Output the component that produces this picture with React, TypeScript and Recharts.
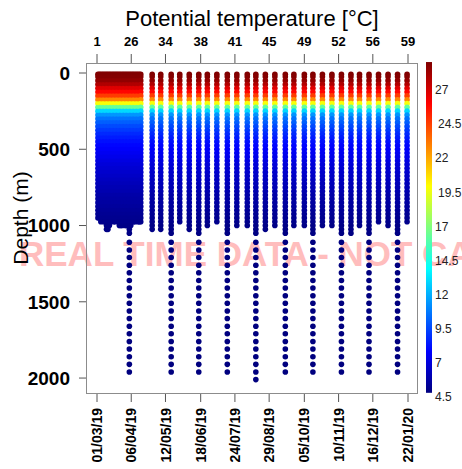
import React from "react";
import { ScatterChart, Scatter, XAxis, YAxis } from "recharts";

const FONT = "'Liberation Sans', Arial, Helvetica, sans-serif";

// days since 01/03/19
const DATE_TICKS = [0, 36, 72, 109, 145, 181, 218, 254, 290, 327];
const DATE_LABELS = [
  "01/03/19", "06/04/19", "12/05/19", "18/06/19", "24/07/19",
  "29/08/19", "05/10/19", "10/11/19", "16/12/19", "22/01/20",
];
const PROFILE_LABELS = ["1", "26", "34", "38", "41", "45", "49", "52", "56", "59"];
const DEPTH_TICKS = [0, 500, 1000, 1500, 2000];
const CBAR_TICKS = [4.5, 7, 9.5, 12, 14.5, 17, 19.5, 22, 24.5, 27];

// day of each profile (first ones every ~1.5 days, then every ~10 days)
const PROFILE_DAYS = [
  1, 2.5, 4, 5.5, 7, 8.5, 10, 11.5, 13, 14.5, 16, 17.5, 19, 20.5, 22, 23.5,
  25, 26.5, 28, 29.5, 31, 32.5, 34, 35.5, 37, 38.5, 40, 41.5, 43, 44.5, 46,
  58, 67, 78, 87, 97, 107, 116, 126, 137, 147, 158, 167, 177, 187, 198, 207,
  218, 227, 237, 247, 257, 267, 276, 286, 296, 306, 316, 326,
];
// bottom of the continuous part of each profile (m)
const DENSE_BOTTOM = [
  950, 950, 975, 950, 975, 975, 1025, 1025, 1000, 975, 950, 975, 975, 950, 975, 1000,
  1000, 1000, 975, 1000, 1000, 1000, 1050, 1000, 975, 975, 975, 950, 975, 975, 975,
  1025, 1025, 1050, 975, 1025, 1050, 1000, 975, 1050, 1000, 1000, 1050, 1025, 1000, 1050, 1000,
  1000, 1050, 1000, 1000, 1050, 1050, 1000, 1050, 975, 1000, 1050, 975,
];
// profiles that go on sampling every 50 m below the continuous part
const DEEP_INDEX = [22, 33, 36, 39, 42, 45, 48, 51, 54, 57];
const DEEP_MAX = [1960, 1960, 1960, 1960, 2010, 1960, 1960, 1960, 1960, 1960];

// potential temperature (°C) against depth (m)
const LEVELS = [
  8, 25, 50, 75, 100, 125, 150, 175, 200, 225, 250, 275, 300, 325, 350, 375,
  400, 425, 450, 475, 500, 525, 550, 575, 600, 625, 650, 675, 700, 725, 750,
  775, 800, 825, 850, 875, 900, 925, 950, 975, 1000, 1025, 1050, 1075,
];
const TEMPS = [
  29.0, 28.9, 28.6, 27.9, 26.8, 25.9, 24.6, 22.8, 19.8, 16.3, 13.0, 11.4, 10.6, 10.1, 9.6, 9.2,
  8.8, 8.5, 8.2, 7.95, 7.75, 7.55, 7.35, 7.15, 6.95, 6.8, 6.65, 6.5, 6.35, 6.2, 6.05,
  5.95, 5.8, 5.7, 5.6, 5.5, 5.4, 5.3, 5.2, 5.1, 5.0, 4.95, 4.9, 4.9,
];
const DEEP_LEVELS = [
  1110, 1160, 1210, 1260, 1310, 1360, 1410, 1460, 1510, 1560, 1610, 1660, 1710,
  1760, 1810, 1860, 1910, 1960, 2010,
];
const DEEP_TEMPS = [
  4.85, 4.8, 4.8, 4.75, 4.75, 4.7, 4.7, 4.7, 4.65, 4.65, 4.6, 4.6, 4.6,
  4.55, 4.55, 4.55, 4.5, 4.5, 4.5,
];

const JET = ["#00007F", "#0000FF", "#007FFF", "#00FFFF", "#7FFF7F", "#FFFF00", "#FF7F00", "#FF0000", "#7F0000"];
const T_MIN = 4.8;
const T_MAX = 29.05;

function hex(c: string) {
  return [1, 3, 5].map((i) => parseInt(c.slice(i, i + 2), 16));
}

function jet(t: number) {
  let f = (t - T_MIN) / (T_MAX - T_MIN);
  f = Math.max(0, Math.min(1, f)) * (JET.length - 1);
  const i = Math.min(JET.length - 2, Math.floor(f));
  const a = hex(JET[i]);
  const b = hex(JET[i + 1]);
  const u = f - i;
  const m = a.map((v, k) => Math.round(v + (b[k] - v) * u));
  return `rgb(${m[0]},${m[1]},${m[2]})`;
}

const points: { day: number; depth: number; c: string }[] = [];
PROFILE_DAYS.forEach((day, i) => {
  LEVELS.forEach((d, j) => {
    if (d <= DENSE_BOTTOM[i]) points.push({ day, depth: d, c: jet(TEMPS[j]) });
  });
  const k = DEEP_INDEX.indexOf(i);
  if (k >= 0) {
    DEEP_LEVELS.forEach((d, j) => {
      if (d <= DEEP_MAX[k]) points.push({ day, depth: d, c: jet(DEEP_TEMPS[j]) });
    });
  }
});

const Dot = (p: any) => <circle cx={p.cx} cy={p.cy} r={2.8} fill={p.payload.c} />;
const NoDot = () => null;

const DateTick = (p: any) => {
  const label = DATE_LABELS[DATE_TICKS.indexOf(p.payload.value)];
  return (
    <text
      x={p.x}
      y={p.y}
      transform={`rotate(-90, ${p.x}, ${p.y})`}
      textAnchor="end"
      dy="0.36em"
      fontSize={14}
      fontWeight="bold"
      fontFamily={FONT}
      fill="#000"
    >
      {label}
    </text>
  );
};

// colour bar scale
const cbY = (t: number) => 90 + (27 - t) * 13.64;

export default function App() {
  return (
    <div style={{ position: "absolute", left: 0, top: 0, width: 462, height: 469, background: "#fff" }}>
      <svg width={462} height={469} style={{ position: "absolute", left: 0, top: 0 }}>
        <text x={19} y={266} fontSize={35} fontWeight="bold" fontFamily={FONT} fill="#ffbdbd">
          REAL TIME DATA - NOT CALIBRATED
        </text>
      </svg>
      <div style={{ position: "absolute", left: 0, top: 0 }}>
        <ScatterChart width={462} height={469} margin={{ top: 33, right: 44, bottom: 6, left: 36 }}>
          <XAxis
            xAxisId="bottom"
            dataKey="day"
            type="number"
            domain={[-11.57, 337.5]}
            ticks={DATE_TICKS}
            interval={0}
            height={70}
            tickSize={9}
            tickMargin={6}
            axisLine={false}
            tickLine={{ stroke: "#555" }}
            tick={<DateTick />}
          />
          <XAxis
            xAxisId="top"
            orientation="top"
            dataKey="day"
            type="number"
            domain={[-11.57, 337.5]}
            ticks={DATE_TICKS}
            interval={0}
            height={30}
            tickSize={9}
            tickMargin={8}
            axisLine={false}
            tickLine={{ stroke: "#555" }}
            tickFormatter={(v: number) => PROFILE_LABELS[DATE_TICKS.indexOf(v)]}
            tick={{ fontSize: 13, fontWeight: "bold", fill: "#000", fontFamily: FONT }}
          />
          <YAxis
            yAxisId="d"
            dataKey="depth"
            type="number"
            reversed
            domain={[-65.6, 2098]}
            ticks={DEPTH_TICKS}
            interval={0}
            width={50}
            tickSize={7}
            tickMargin={9}
            axisLine={false}
            tickLine={{ stroke: "#555" }}
            tick={{ fontSize: 19, fontWeight: "bold", fill: "#000", fontFamily: FONT }}
          />
          <Scatter xAxisId="bottom" yAxisId="d" data={points} shape={Dot} isAnimationActive={false} />
          <Scatter xAxisId="top" yAxisId="d" data={points.slice(0, 1)} shape={NoDot} isAnimationActive={false} />
        </ScatterChart>
      </div>
      <svg width={462} height={469} style={{ position: "absolute", left: 0, top: 0, pointerEvents: "none" }}>
        <defs>
          <linearGradient id="cbar" x1="0" y1="1" x2="0" y2="0">
            {JET.map((c, i) => (
              <stop key={i} offset={i / (JET.length - 1)} stopColor={c} />
            ))}
          </linearGradient>
        </defs>
        <rect x={86.5} y={63.5} width={331} height={330} fill="none" stroke="#8c8c8c" />
        <text x={252} y={26} textAnchor="middle" fontSize={22} fontFamily={FONT} fill="#000">
          Potential temperature [°C]
        </text>
        <text
          x={28}
          y={218}
          transform="rotate(-90, 28, 218)"
          textAnchor="middle"
          fontSize={21}
          fontFamily={FONT}
          fill="#000"
        >
          Depth (m)
        </text>
        <rect x={426} y={cbY(T_MAX)} width={6} height={cbY(T_MIN) - cbY(T_MAX)} fill="url(#cbar)" />
        {CBAR_TICKS.map((t) => (
          <text
            key={t}
            x={t === 24.5 || t === 19.5 ? 438 : 435}
            y={cbY(t)}
            dy="0.35em"
            fontSize={12}
            fontFamily={FONT}
            fill="#222"
          >
            {t}
          </text>
        ))}
      </svg>
    </div>
  );
}
